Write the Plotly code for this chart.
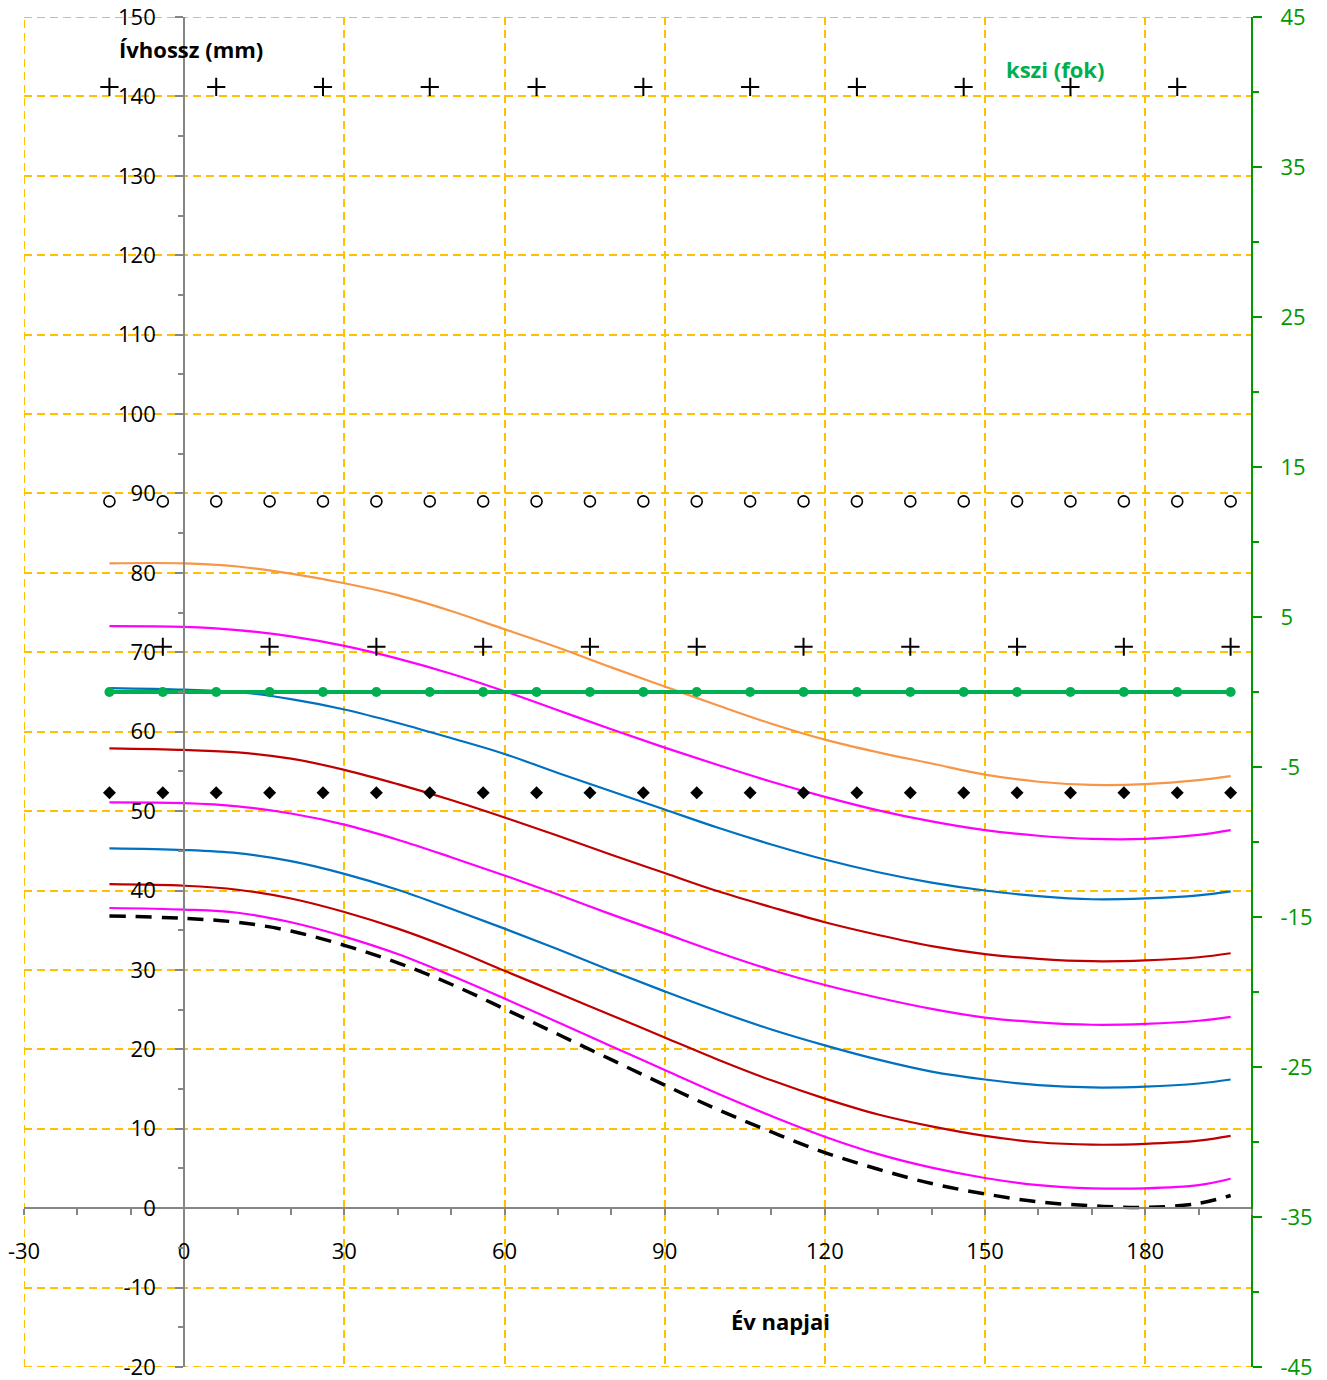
import plotly.graph_objects as go

# ---------------- data ----------------
curve_days = [-14, 0, 10, 20, 30, 40, 50, 60, 70, 80, 90, 100, 110, 120, 130, 140, 150, 160, 170, 180, 190, 196]

arc_orange = [81.2, 81.2, 80.8, 79.9, 78.7, 77.2, 75.2, 72.9, 70.6, 68.1, 65.7, 63.3, 61.0, 59.0, 57.4, 56.0, 54.6, 53.7, 53.3, 53.4, 53.9, 54.4]
arc_magenta1 = [73.3, 73.2, 72.8, 72.0, 70.8, 69.2, 67.3, 65.1, 62.7, 60.3, 58.0, 55.8, 53.7, 51.8, 50.1, 48.7, 47.6, 46.9, 46.5, 46.5, 47.0, 47.6]
arc_blue1 = [65.5, 65.3, 65.0, 64.1, 62.8, 61.1, 59.2, 57.2, 54.8, 52.5, 50.2, 47.9, 45.8, 43.9, 42.3, 41.0, 40.0, 39.3, 38.9, 39.0, 39.4, 39.9]
arc_red1 = [57.9, 57.7, 57.4, 56.6, 55.2, 53.4, 51.4, 49.2, 46.9, 44.5, 42.2, 39.9, 37.9, 36.0, 34.4, 33.0, 32.0, 31.4, 31.1, 31.2, 31.6, 32.1]
arc_magenta2 = [51.1, 51.0, 50.6, 49.7, 48.3, 46.4, 44.2, 41.9, 39.5, 37.0, 34.6, 32.2, 30.0, 28.1, 26.5, 25.1, 24.0, 23.4, 23.1, 23.2, 23.6, 24.1]
arc_blue2 = [45.3, 45.1, 44.7, 43.7, 42.1, 40.1, 37.7, 35.2, 32.6, 29.9, 27.3, 24.8, 22.5, 20.5, 18.7, 17.2, 16.2, 15.5, 15.2, 15.3, 15.7, 16.2]
arc_red2 = [40.8, 40.6, 40.1, 39.0, 37.3, 35.2, 32.7, 29.9, 27.1, 24.3, 21.5, 18.7, 16.1, 13.8, 11.8, 10.3, 9.1, 8.3, 8.0, 8.1, 8.5, 9.1]
arc_magenta3 = [37.8, 37.6, 37.2, 36.0, 34.2, 32.0, 29.3, 26.4, 23.4, 20.4, 17.4, 14.4, 11.6, 9.0, 6.8, 5.1, 3.8, 2.9, 2.5, 2.5, 2.9, 3.7]
arc_dashed = [36.8, 36.5, 36.0, 34.9, 33.1, 30.9, 28.2, 25.1, 21.9, 18.7, 15.5, 12.4, 9.6, 7.0, 4.9, 3.1, 1.8, 0.8, 0.3, 0.1, 0.6, 1.6]

marker_days = [-14, -4, 6, 16, 26, 36, 46, 56, 66, 76, 86, 96, 106, 116, 126, 136, 146, 156, 166, 176, 186, 196]
circle_values = [89.0, 89.0, 89.0, 89.0, 89.0, 89.0, 89.0, 89.0, 89.0, 89.0, 89.0,
                 89.0, 89.0, 89.0, 89.0, 89.0, 89.0, 89.0, 89.0, 89.0, 89.0, 89.0]
diamond_values = [52.3, 52.3, 52.3, 52.3, 52.3, 52.3, 52.3, 52.3, 52.3, 52.3, 52.3,
                  52.3, 52.3, 52.3, 52.3, 52.3, 52.3, 52.3, 52.3, 52.3, 52.3, 52.3]
kszi_values = [0, 0, 0, 0, 0, 0, 0, 0, 0, 0, 0, 0, 0, 0, 0, 0, 0, 0, 0, 0, 0, 0]

cross_top_days = [-14, 6, 26, 46, 66, 86, 106, 126, 146, 166, 186]
cross_top_values = [141.2, 141.2, 141.2, 141.2, 141.2, 141.2, 141.2, 141.2, 141.2, 141.2, 141.2]
cross_mid_days = [-4, 16, 36, 56, 76, 96, 116, 136, 156, 176, 196]
cross_mid_values = [70.7, 70.7, 70.7, 70.7, 70.7, 70.7, 70.7, 70.7, 70.7, 70.7, 70.7]

x_range = [-30, 200]
y_range = [-20, 150]
y2_range = [-45, 45]
x_tickvals = [-30, 0, 30, 60, 90, 120, 150, 180]
x_ticktext = ["-30", "0", "30", "60", "90", "120", "150", "180"]
x_minorvals = [-20, -10, 10, 20, 40, 50, 70, 80, 100, 110, 130, 140, 160, 170, 190, 200]
y_tickvals = [-20, -10, 0, 10, 20, 30, 40, 50, 60, 70, 80, 90, 100, 110, 120, 130, 140, 150]
y_ticktext = ["-20", "-10", "0", "10", "20", "30", "40", "50", "60", "70", "80", "90", "100", "110", "120", "130", "140", "150"]
y_minorvals = [-15, -5, 5, 15, 25, 35, 45, 55, 65, 75, 85, 95, 105, 115, 125, 135, 145]
y2_tickvals = [-45, -35, -25, -15, -5, 5, 15, 25, 35, 45]
y2_ticktext = ["-45", "-35", "-25", "-15", "-5", "5", "15", "25", "35", "45"]
y2_minorvals = [-40, -30, -20, -10, 0, 10, 20, 30, 40]

# ---------------- styles ----------------
ORANGE = "#F79646"
MAGENTA = "#FF00FF"
BLUE = "#0070C0"
DRED = "#C00000"
GREEN = "#00B050"
AXGREEN = "#009900"
GRID = "#FFC000"
AXGREY = "#868686"
FONT = "Open Sans"
GDASH = "8px,5px"

fig = go.Figure()

curves = [
    (arc_orange, ORANGE), (arc_magenta1, MAGENTA), (arc_blue1, BLUE), (arc_red1, DRED),
    (arc_magenta2, MAGENTA), (arc_blue2, BLUE), (arc_red2, DRED), (arc_magenta3, MAGENTA),
]
for vals, col in curves:
    fig.add_trace(go.Scatter(x=curve_days, y=vals, mode="lines",
                             line=dict(color=col, width=2.2, shape="spline", smoothing=1.0),
                             hoverinfo="skip"))
fig.add_trace(go.Scatter(x=curve_days, y=arc_dashed, mode="lines",
                         line=dict(color="black", width=3.5, dash="16px,10px", shape="spline", smoothing=1.0)))

fig.add_trace(go.Scatter(x=marker_days, y=circle_values, mode="markers",
                         marker=dict(symbol="circle-open", size=11, color="black", line=dict(width=1.6))))
fig.add_trace(go.Scatter(x=marker_days, y=diamond_values, mode="markers",
                         marker=dict(symbol="diamond", size=10, color="black")))
fig.add_trace(go.Scatter(x=cross_top_days, y=cross_top_values, mode="markers",
                         marker=dict(symbol="cross-thin", size=13, color="black", line=dict(width=2, color="black"))))
fig.add_trace(go.Scatter(x=cross_mid_days, y=cross_mid_values, mode="markers",
                         marker=dict(symbol="cross-thin", size=13, color="black", line=dict(width=2, color="black"))))
fig.add_trace(go.Scatter(x=marker_days, y=kszi_values, mode="lines+markers", yaxis="y2",
                         line=dict(color=GREEN, width=4),
                         marker=dict(symbol="circle", size=10, color=GREEN)))

grid_common = dict(showgrid=True, gridcolor=GRID, gridwidth=2, griddash=GDASH, zeroline=False,
                   automargin=False, ticklabeloverflow="allow")

# edge grid lines (plotly skips grid lines at the exact range ends)
edge_lines = [
    dict(type="line", xref="x", yref="y", x0=x_range[0], x1=x_range[0], y0=y_range[0], y1=y_range[1]),
    dict(type="line", xref="x", yref="y", x0=x_range[0], x1=x_range[1], y0=y_range[1], y1=y_range[1]),
    dict(type="line", xref="x", yref="y", x0=x_range[0], x1=x_range[1], y0=y_range[0], y1=y_range[0]),
]
shapes = []
for s in edge_lines:
    s.update(layer="below", line=dict(color=GRID, width=2, dash=GDASH))
    shapes.append(s)

fig.update_layout(
    width=1327, height=1380,
    margin=dict(l=24, r=75, t=17, b=13, pad=0, autoexpand=False),
    paper_bgcolor="white", plot_bgcolor="white",
    showlegend=False,
    font=dict(family=FONT, size=22, color="black"),
    shapes=shapes,
    xaxis=dict(range=x_range, anchor="free", position=20 / 170,
               tickmode="array", tickvals=x_tickvals, ticktext=x_ticktext,
               ticks="outside", ticklen=6, tickwidth=2, tickcolor=AXGREY,
               showline=True, linecolor=AXGREY, linewidth=2,
               ticklabelstandoff=17,
               minor=dict(tickmode="array", tickvals=x_minorvals, ticks="outside", ticklen=6,
                          tickwidth=2, tickcolor=AXGREY, showgrid=False),
               tickfont=dict(size=22, color="black", family=FONT),
               **grid_common),
    yaxis=dict(range=y_range, anchor="free", position=30 / 230,
               tickmode="array", tickvals=y_tickvals, ticktext=y_ticktext,
               ticks="outside", ticklen=8, tickwidth=2, tickcolor=AXGREY,
               showline=True, linecolor=AXGREY, linewidth=2,
               ticklabelstandoff=15,
               minor=dict(tickmode="array", tickvals=y_minorvals, ticks="outside", ticklen=5,
                          tickwidth=2, tickcolor=AXGREY, showgrid=False),
               tickfont=dict(size=22, color="black", family=FONT),
               **grid_common),
    yaxis2=dict(range=y2_range, overlaying="y", side="right", anchor="free", position=1,
                tickmode="array", tickvals=y2_tickvals, ticktext=y2_ticktext,
                ticks="outside", ticklen=9, tickwidth=2, tickcolor=AXGREEN,
                showline=True, linecolor=AXGREEN, linewidth=2,
                ticklabelstandoff=14, automargin=False, ticklabeloverflow="allow",
                minor=dict(tickmode="array", tickvals=y2_minorvals, ticks="outside", ticklen=6,
                           tickwidth=2, tickcolor=AXGREEN, showgrid=False),
                showgrid=False, zeroline=False,
                tickfont=dict(size=22, color=AXGREEN, family=FONT)),
    annotations=[
        dict(text="<b>Ívhossz (mm)</b>", x=-12.6, y=146.0, xref="x", yref="y",
             xanchor="left", yanchor="middle", showarrow=False,
             font=dict(size=22, color="black", family=FONT)),
        dict(text="<b>Év napjai</b>", x=111.6, y=-14.2, xref="x", yref="y",
             xanchor="center", yanchor="middle", showarrow=False,
             font=dict(size=22, color="black", family=FONT)),
        dict(text="<b>kszi (fok)</b>", x=153.6, y=143.5, xref="x", yref="y",
             xanchor="left", yanchor="middle", showarrow=False,
             font=dict(size=22, color=GREEN, family=FONT)),
    ],
)

fig.write_html("out.html")
